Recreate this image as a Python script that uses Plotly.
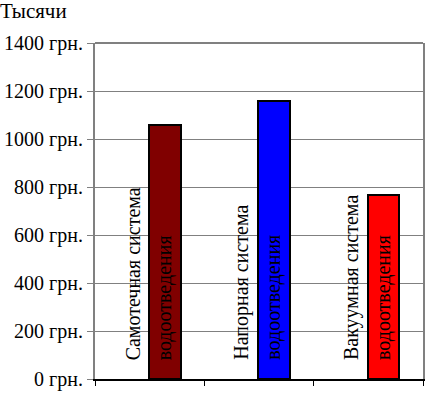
import plotly.graph_objects as go

categories = ["Самотечная система", "Напорная система", "Вакуумная система"]
line2 = ["водоотведения", "водоотведения", "водоотведения"]
values = [1060, 1160, 765]
colors = ["#800000", "#0000FF", "#FF0000"]
y_ticks = [0, 200, 400, 600, 800, 1000, 1200, 1400]
y_tick_labels = [f"{v} грн." for v in y_ticks]

FONT = "'Liberation Serif', 'Times New Roman', Times, serif"

fig = go.Figure()
fig.add_trace(go.Bar(
    x=categories, y=values,
    marker=dict(color=colors, line=dict(color="black", width=2)),
    width=0.29, offset=-0.005,
    hoverinfo="x+y",
))

ann = []
for c, l2 in zip(categories, line2):
    ann.append(dict(x=c, xref="x", y=0.05, yref="paper", text=c,
                    textangle=-90, showarrow=False, xanchor="center",
                    yanchor="bottom", xshift=-17,
                    font=dict(family=FONT, size=20, color="black")))
    ann.append(dict(x=c, xref="x", y=0.05, yref="paper", text=l2,
                    textangle=-90, showarrow=False, xanchor="center",
                    yanchor="bottom", xshift=15,
                    font=dict(family=FONT, size=20, color="black")))

fig.update_layout(
    width=427, height=393,
    margin=dict(l=95, r=2, t=43, b=12),
    paper_bgcolor="white", plot_bgcolor="white",
    showlegend=False,
    font=dict(family=FONT, size=20, color="black"),
    annotations=ann,
    title=dict(text="Тысячи", x=0, xref="container", xanchor="left",
               y=1 - 11 / 393, yref="container", yanchor="middle",
               font=dict(family=FONT, size=21, color="black"), pad=dict(l=0)),
    shapes=[dict(type="line", xref="paper", yref="paper", x0=0, x1=1, y0=1, y1=1,
                 line=dict(color="#808080", width=2))],
    bargap=0,
)

fig.update_xaxes(
    showticklabels=False, showgrid=False,
    showline=True, linecolor="black", linewidth=2,
    ticks="outside", tickson="boundaries", ticklen=5, tickcolor="black", tickwidth=1,
    range=[-0.5, 2.5],
)
fig.update_yaxes(
    range=[0, 1400], tickvals=y_ticks, ticktext=y_tick_labels,
    showgrid=True, gridcolor="#808080", gridwidth=1,
    showline=True, linecolor="#808080", linewidth=2, mirror=True,
    ticks="outside", ticklen=6, tickcolor="#808080",
    tickfont=dict(family=FONT, size=20, color="black"),
    zeroline=False,
)

fig.write_html("out.html", config={"displayModeBar": False},
               post_script="document.body.style.margin='0';")
